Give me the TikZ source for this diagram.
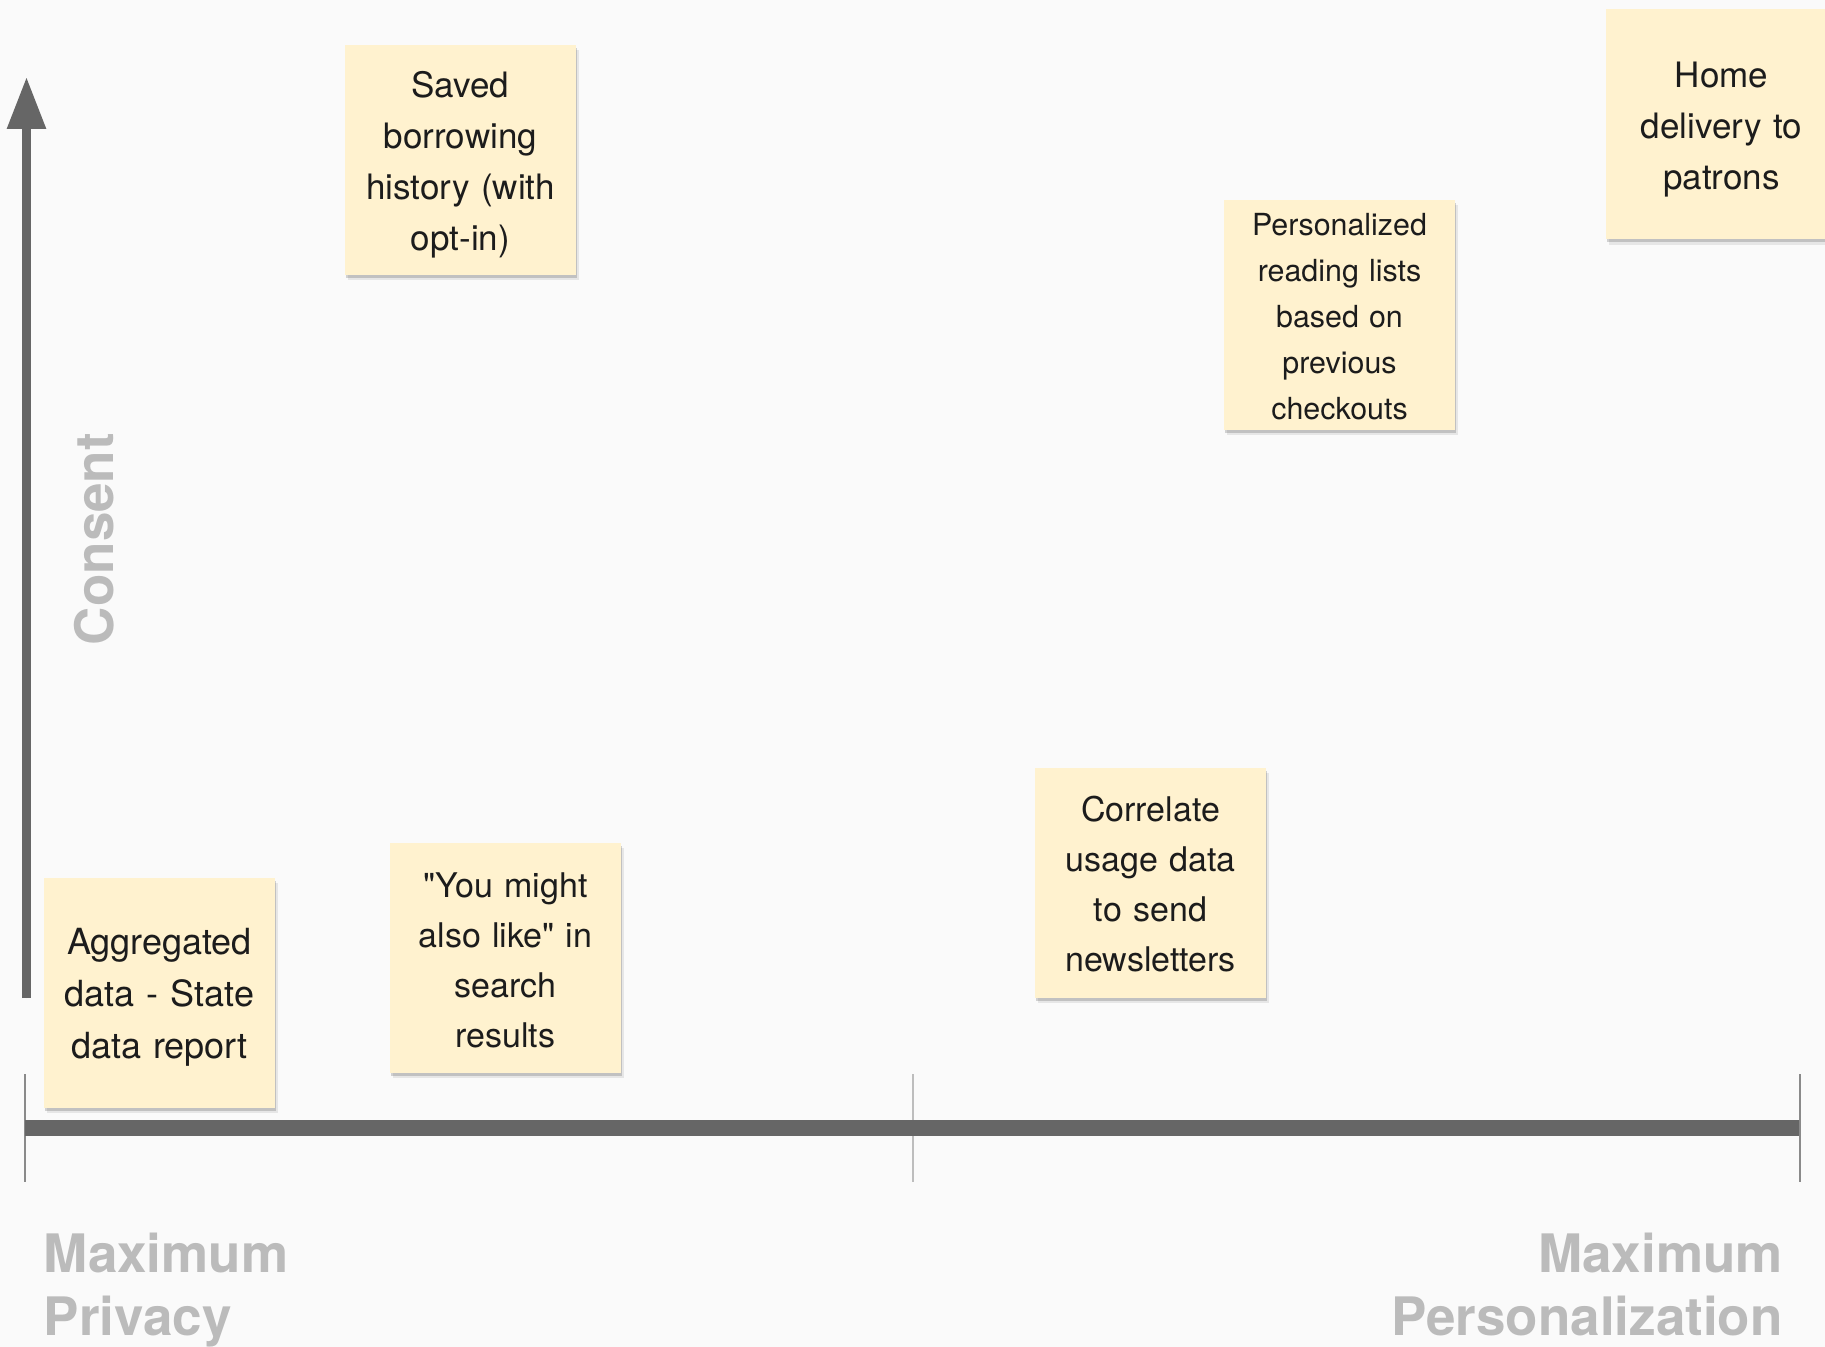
\documentclass[tikz,border=0pt]{standalone}
\usepackage{fontspec}
\setmainfont{TeX Gyre Heros}[Ligatures=TeXOff]
\usetikzlibrary{arrows.meta,shadows}
\definecolor{bgcol}{HTML}{FAFAFA}
\definecolor{axiscol}{HTML}{666666}
\definecolor{labelcol}{HTML}{BBBBBB}
\definecolor{stickycol}{HTML}{FFF2CF}
\definecolor{inkcol}{HTML}{1C1C1C}
\definecolor{tickdark}{HTML}{8A8A8A}
\definecolor{ticklight}{HTML}{BDBDBD}
\newcommand{\fsA}{\fontsize{17.5pt}{25.5pt}\selectfont}
\newcommand{\fsB}{\fontsize{18pt}{26pt}\selectfont}
\newcommand{\fsC}{\fontsize{17pt}{25pt}\selectfont}
\newcommand{\fsD}{\fontsize{15.2pt}{23pt}\selectfont}
\begin{document}
\begin{tikzpicture}[x=0.5pt,y=-0.5pt,
  stickybox/.style={fill=stickycol, minimum width=115.5pt, minimum height=115pt,
    inner sep=0pt,
    general shadow={fill=black, opacity=0.08, shadow xshift=1.3pt, shadow yshift=-2.6pt},
    general shadow={fill=black, opacity=0.16, shadow xshift=0.6pt, shadow yshift=-1.3pt}},
  stickytext/.style={inner sep=0pt, text width=112pt, align=center, text=inkcol},
  lbl/.style={text=labelcol, inner sep=0pt, font={\bfseries\fontsize{26.5pt}{31.5pt}\selectfont}},
  axisline/.style={draw=axiscol, line width=8pt, line cap=butt},
  tickline/.style={line width=1pt}]
\useasboundingbox (0,0) rectangle (1825,1347);
\clip (0,0) rectangle (1825,1347);
\fill[bgcol] (0,0) rectangle (1825,1347);

% horizontal axis with ticks
\coordinate (hL) at (25,1128);
\coordinate (hR) at (1800,1128);
\coordinate (tLtop) at (25,1074);
\coordinate (tLbot) at (25,1182);
\coordinate (tMtop) at (912.5,1074);
\coordinate (tMbot) at (912.5,1182);
\coordinate (tRtop) at (1800,1074);
\coordinate (tRbot) at (1800,1182);
\draw[tickline, draw=tickdark] (tLtop) -- (tLbot);
\draw[tickline, draw=ticklight] (tMtop) -- (tMbot);
\draw[axisline] (hL) -- (hR);
\draw[tickline, draw=tickdark] (tRtop) -- (tRbot);

% vertical axis arrow
\coordinate (vB) at (26.5,998);
\coordinate (vT) at (26.5,77);
\draw[axisline, line width=4.5pt, -{Triangle[width=18.5pt,length=26pt]}, fill=axiscol] (vB) -- (vT);

% sticky notes
\node[stickybox] (saved) at (460.5,160) {};
\node[stickytext, font=\fsA] (savedtxt) at (460.5,164.3) {Saved\\borrowing\\history (with\\opt-in)};
\node[stickybox] (aggr) at (159.5,993) {};
\node[stickytext, font=\fsB] (aggrtxt) at (159.5,997.5) {Aggregated\\data - State\\data report};
\node[stickybox] (youmight) at (505.5,958) {};
\node[stickytext, font=\fsC] (youmighttxt) at (505.5,960) {"You might\\also like" in\\search\\results};
\node[stickybox] (correlate) at (1150.5,883) {};
\node[stickytext, font=\fsC] (correlatetxt) at (1150.5,884) {Correlate\\usage data\\to send\\newsletters};
\node[stickybox] (personal) at (1339.5,315) {};
\node[stickytext, font=\fsD] (personaltxt) at (1339.5,317) {Personalized\\reading lists\\based on\\previous\\checkouts};
\node[stickybox] (home) at (1721.5,124.5) {};
\node[stickytext, font=\fsA] (hometxt) at (1721.5,130) {Home\\delivery to\\patrons};

% axis labels
\node[lbl, anchor=base west] (privA) at (43.5,1272) {Maximum};
\node[lbl, anchor=base west] (privB) at (43.5,1335) {Privacy};
\node[lbl, anchor=base east] (persA) at (1783,1272) {Maximum};
\node[lbl, anchor=base east] (persB) at (1783,1335) {Personalization};
\node[lbl, rotate=90, anchor=base] (consent) at (113,539) {Consent};
\end{tikzpicture}
\end{document}
